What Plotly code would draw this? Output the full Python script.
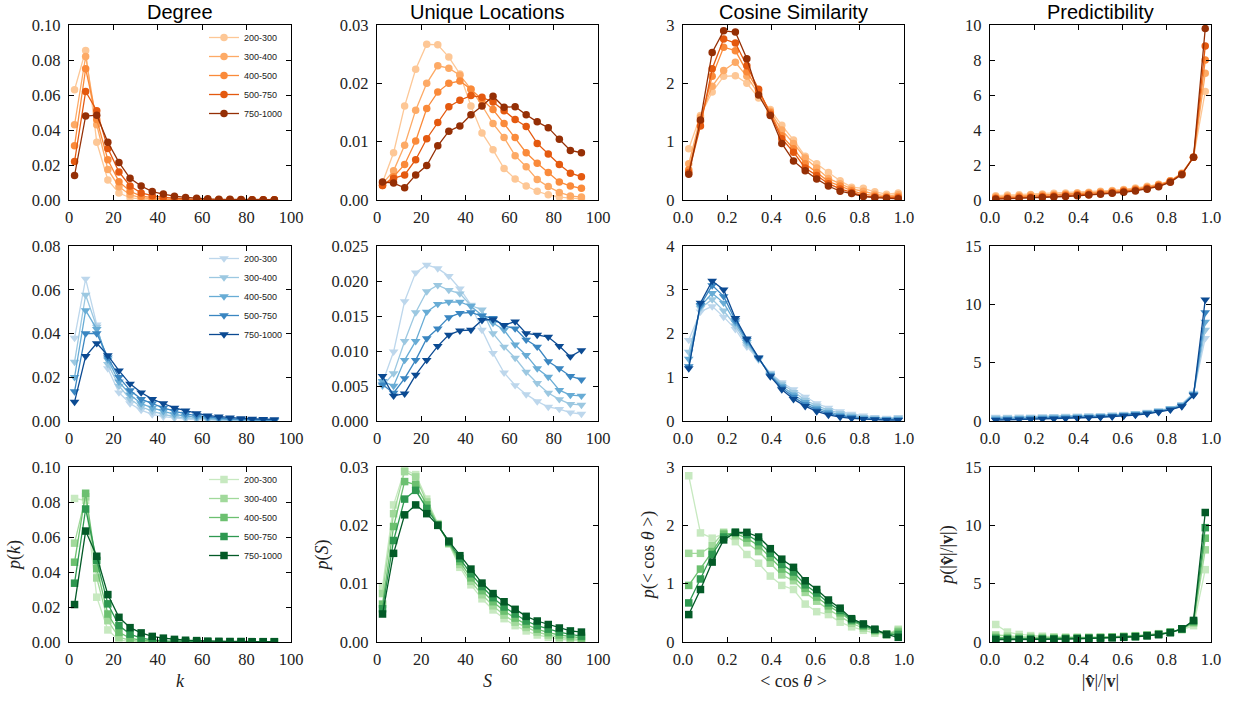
import plotly.graph_objects as go
from plotly.subplots import make_subplots

# ---------------------------------------------------------------- data
groups = ["200-300", "300-400", "400-500", "500-750", "750-1000"]

k_bins = [2.5, 7.5, 12.5, 17.5, 22.5, 27.5, 32.5, 37.5, 42.5, 47.5,
          52.5, 57.5, 62.5, 67.5, 72.5, 77.5, 82.5, 87.5, 92.5]
s_bins = [2.5, 7.5, 12.5, 17.5, 22.5, 27.5, 32.5, 37.5, 42.5, 47.5,
          52.5, 57.5, 62.5, 67.5, 72.5, 77.5, 82.5, 87.5, 92.5]
cos_bins = [0.026, 0.079, 0.132, 0.184, 0.237, 0.289, 0.342, 0.395, 0.447, 0.500,
            0.553, 0.605, 0.658, 0.711, 0.763, 0.816, 0.868, 0.921, 0.974]
ratio_bins = [0.026, 0.079, 0.132, 0.184, 0.237, 0.289, 0.342, 0.395, 0.447, 0.500,
              0.553, 0.605, 0.658, 0.711, 0.763, 0.816, 0.868, 0.921, 0.974]

# --- orange row
degree_orange = [
    [0.063, 0.0855, 0.033, 0.0114, 0.0040, 0.0013, 0.0005, 0.0002, 0.0001, 0.0001, 0.0001, 0.0, 0.0, 0.0, 0.0, 0.0, 0.0, 0.0, 0.0],
    [0.043, 0.082, 0.043, 0.0175, 0.0076, 0.0030, 0.0012, 0.0006, 0.0003, 0.0002, 0.0001, 0.0001, 0.0001, 0.0, 0.0, 0.0, 0.0, 0.0, 0.0],
    [0.031, 0.075, 0.046, 0.023, 0.0105, 0.0050, 0.0022, 0.0012, 0.0006, 0.0004, 0.0002, 0.0002, 0.0001, 0.0001, 0.0001, 0.0, 0.0, 0.0, 0.0],
    [0.022, 0.062, 0.051, 0.0295, 0.016, 0.008, 0.0040, 0.0025, 0.0015, 0.0009, 0.0006, 0.0004, 0.0003, 0.0002, 0.0002, 0.0001, 0.0001, 0.0001, 0.0001],
    [0.014, 0.048, 0.0485, 0.033, 0.0215, 0.0124, 0.0080, 0.0048, 0.0034, 0.0022, 0.0015, 0.0010, 0.0007, 0.0005, 0.0004, 0.0003, 0.0002, 0.0002, 0.0002],
]
unique_orange = [
    [0.0030, 0.0081, 0.0161, 0.0224, 0.0267, 0.0266, 0.0245, 0.0216, 0.0161, 0.0115, 0.0086, 0.0054, 0.0036, 0.0024, 0.0015, 0.0009, 0.0005, 0.0003, 0.0002],
    [0.0028, 0.0050, 0.0094, 0.0154, 0.0200, 0.0230, 0.0226, 0.0214, 0.0190, 0.0162, 0.0131, 0.0107, 0.0076, 0.0057, 0.0035, 0.0023, 0.0013, 0.0007, 0.0005],
    [0.0025, 0.0040, 0.0061, 0.0101, 0.0157, 0.0185, 0.0200, 0.0204, 0.0190, 0.0172, 0.0155, 0.0131, 0.0107, 0.0081, 0.0063, 0.0047, 0.0031, 0.0024, 0.0020],
    [0.0025, 0.0037, 0.0043, 0.0069, 0.0105, 0.0133, 0.0160, 0.0171, 0.0179, 0.0176, 0.0168, 0.0153, 0.0138, 0.0126, 0.0097, 0.0079, 0.0061, 0.0046, 0.0040],
    [0.0031, 0.0029, 0.0021, 0.0043, 0.0059, 0.0093, 0.0118, 0.0127, 0.0146, 0.0161, 0.0178, 0.0159, 0.0160, 0.0146, 0.0134, 0.0124, 0.0104, 0.0085, 0.0081],
]
cosine_orange = [
    [0.88, 1.45, 1.85, 2.12, 2.13, 2.00, 1.75, 1.55, 1.28, 1.03, 0.75, 0.62, 0.47, 0.33, 0.22, 0.20, 0.14, 0.10, 0.12],
    [0.62, 1.42, 1.95, 2.22, 2.36, 2.12, 1.82, 1.52, 1.20, 0.97, 0.72, 0.55, 0.37, 0.28, 0.19, 0.15, 0.10, 0.07, 0.09],
    [0.52, 1.35, 2.12, 2.62, 2.56, 2.20, 1.87, 1.50, 1.10, 0.88, 0.62, 0.47, 0.32, 0.24, 0.16, 0.10, 0.07, 0.05, 0.06],
    [0.47, 1.27, 2.25, 2.76, 2.69, 2.30, 1.90, 1.47, 1.05, 0.82, 0.55, 0.42, 0.28, 0.19, 0.13, 0.07, 0.05, 0.04, 0.04],
    [0.44, 1.37, 2.53, 2.90, 2.88, 2.42, 1.80, 1.45, 0.97, 0.67, 0.50, 0.36, 0.24, 0.15, 0.11, 0.06, 0.04, 0.03, 0.02],
]
predict_orange = [
    [0.25, 0.28, 0.30, 0.32, 0.35, 0.38, 0.40, 0.42, 0.45, 0.50, 0.55, 0.60, 0.68, 0.78, 0.90, 1.10, 1.55, 2.45, 6.2],
    [0.18, 0.22, 0.25, 0.28, 0.30, 0.32, 0.35, 0.38, 0.42, 0.47, 0.52, 0.57, 0.65, 0.75, 0.88, 1.10, 1.50, 2.45, 7.25],
    [0.12, 0.15, 0.18, 0.20, 0.23, 0.26, 0.30, 0.33, 0.37, 0.42, 0.47, 0.53, 0.60, 0.70, 0.84, 1.08, 1.50, 2.45, 8.0],
    [0.08, 0.10, 0.12, 0.15, 0.18, 0.21, 0.25, 0.28, 0.32, 0.37, 0.42, 0.48, 0.56, 0.66, 0.80, 1.05, 1.48, 2.45, 8.8],
    [0.05, 0.07, 0.09, 0.11, 0.14, 0.17, 0.20, 0.24, 0.28, 0.33, 0.38, 0.44, 0.52, 0.62, 0.76, 1.02, 1.45, 2.45, 9.8],
]

# --- blue row
degree_blue = [
    [0.038, 0.065, 0.044, 0.024, 0.013, 0.008, 0.005, 0.003, 0.002, 0.0013, 0.0009, 0.0006, 0.0004, 0.0003, 0.0002, 0.00015, 0.0001, 0.0001, 0.00005],
    [0.027, 0.0576, 0.043, 0.026, 0.016, 0.010, 0.0065, 0.0045, 0.003, 0.002, 0.0014, 0.001, 0.0007, 0.0005, 0.0004, 0.0003, 0.0002, 0.00015, 0.0001],
    [0.020, 0.0506, 0.042, 0.028, 0.018, 0.012, 0.008, 0.006, 0.0045, 0.003, 0.0022, 0.0016, 0.0012, 0.0009, 0.0007, 0.0005, 0.0004, 0.0003, 0.0002],
    [0.0135, 0.040, 0.040, 0.029, 0.020, 0.014, 0.010, 0.008, 0.006, 0.0045, 0.0033, 0.0025, 0.0018, 0.0013, 0.001, 0.0008, 0.0006, 0.0005, 0.0004],
    [0.0087, 0.0296, 0.0355, 0.030, 0.023, 0.017, 0.013, 0.010, 0.008, 0.0060, 0.0047, 0.0035, 0.0025, 0.0020, 0.0015, 0.0012, 0.0010, 0.0008, 0.0007],
]
unique_blue = [
    [0.0055, 0.0099, 0.0171, 0.0212, 0.0223, 0.0218, 0.0207, 0.0189, 0.0166, 0.0130, 0.0097, 0.0069, 0.0051, 0.0038, 0.0028, 0.0020, 0.0017, 0.0012, 0.0010],
    [0.0050, 0.0068, 0.0114, 0.0155, 0.0185, 0.0194, 0.0187, 0.0182, 0.0165, 0.0159, 0.0125, 0.0106, 0.0090, 0.0070, 0.0054, 0.0040, 0.0031, 0.0024, 0.0023],
    [0.0057, 0.0050, 0.0087, 0.0114, 0.0156, 0.0167, 0.0170, 0.0170, 0.0164, 0.0151, 0.0140, 0.0130, 0.0109, 0.0094, 0.0075, 0.0063, 0.0044, 0.0037, 0.0036],
    [0.0052, 0.0040, 0.0061, 0.0087, 0.0118, 0.0132, 0.0148, 0.0154, 0.0155, 0.0150, 0.0147, 0.0136, 0.0132, 0.0116, 0.0106, 0.0085, 0.0075, 0.0064, 0.0059],
    [0.0064, 0.0036, 0.0039, 0.0066, 0.0087, 0.0107, 0.0123, 0.0129, 0.0130, 0.0144, 0.0145, 0.0137, 0.0142, 0.0125, 0.0123, 0.0120, 0.0107, 0.0092, 0.0101],
]
cosine_blue = [
    [1.85, 2.50, 2.62, 2.38, 2.10, 1.70, 1.40, 1.10, 0.88, 0.72, 0.55, 0.40, 0.30, 0.22, 0.16, 0.12, 0.09, 0.07, 0.09],
    [1.58, 2.58, 2.78, 2.52, 2.18, 1.75, 1.42, 1.08, 0.85, 0.66, 0.48, 0.35, 0.25, 0.18, 0.13, 0.09, 0.07, 0.05, 0.07],
    [1.42, 2.62, 2.92, 2.70, 2.25, 1.80, 1.43, 1.06, 0.80, 0.60, 0.43, 0.30, 0.21, 0.14, 0.10, 0.07, 0.05, 0.04, 0.05],
    [1.25, 2.65, 3.10, 2.85, 2.30, 1.85, 1.44, 1.04, 0.76, 0.55, 0.38, 0.26, 0.17, 0.11, 0.08, 0.05, 0.04, 0.03, 0.03],
    [1.20, 2.70, 3.20, 3.00, 2.35, 1.88, 1.45, 1.02, 0.72, 0.50, 0.34, 0.22, 0.14, 0.09, 0.06, 0.04, 0.03, 0.02, 0.02],
]
predict_blue = [
    [0.35, 0.36, 0.37, 0.38, 0.40, 0.42, 0.44, 0.46, 0.48, 0.50, 0.55, 0.60, 0.68, 0.78, 0.90, 1.10, 1.45, 2.40, 7.1],
    [0.28, 0.30, 0.31, 0.33, 0.35, 0.37, 0.39, 0.41, 0.44, 0.47, 0.52, 0.57, 0.65, 0.75, 0.88, 1.08, 1.40, 2.35, 7.8],
    [0.20, 0.22, 0.24, 0.26, 0.28, 0.30, 0.32, 0.35, 0.38, 0.42, 0.47, 0.53, 0.60, 0.70, 0.84, 1.05, 1.35, 2.30, 8.5],
    [0.14, 0.16, 0.18, 0.20, 0.22, 0.24, 0.27, 0.30, 0.33, 0.37, 0.42, 0.48, 0.56, 0.66, 0.80, 1.00, 1.30, 2.25, 9.3],
    [0.08, 0.10, 0.12, 0.14, 0.16, 0.18, 0.21, 0.24, 0.28, 0.32, 0.37, 0.43, 0.51, 0.62, 0.76, 0.96, 1.25, 2.20, 10.4],
]

# --- green row
degree_green = [
    [0.082, 0.081, 0.0256, 0.0069, 0.0010, 0.0003, 0.0001, 0.0, 0.0, 0.0, 0.0, 0.0, 0.0, 0.0, 0.0, 0.0, 0.0, 0.0, 0.0],
    [0.0565, 0.083, 0.0366, 0.0122, 0.0027, 0.0010, 0.0004, 0.0002, 0.0001, 0.0001, 0.0, 0.0, 0.0, 0.0, 0.0, 0.0, 0.0, 0.0, 0.0],
    [0.0456, 0.085, 0.042, 0.016, 0.0055, 0.0022, 0.0010, 0.0005, 0.0003, 0.0002, 0.0001, 0.0001, 0.0, 0.0, 0.0, 0.0, 0.0, 0.0, 0.0],
    [0.0336, 0.076, 0.0466, 0.0218, 0.0094, 0.0045, 0.0022, 0.0012, 0.0007, 0.0005, 0.0003, 0.0002, 0.0001, 0.0001, 0.0001, 0.0001, 0.0, 0.0, 0.0],
    [0.0214, 0.0634, 0.049, 0.0271, 0.0141, 0.0082, 0.0052, 0.0032, 0.0022, 0.0015, 0.0010, 0.0008, 0.0005, 0.0004, 0.0003, 0.0003, 0.0002, 0.0002, 0.0002],
]
unique_green = [
    [0.0095, 0.0235, 0.0295, 0.0287, 0.0245, 0.0203, 0.0168, 0.0128, 0.0098, 0.0074, 0.0055, 0.0040, 0.0028, 0.0019, 0.0012, 0.0008, 0.0005, 0.0003, 0.0002],
    [0.0083, 0.0220, 0.0292, 0.0283, 0.0240, 0.0202, 0.0169, 0.0133, 0.0104, 0.0081, 0.0062, 0.0046, 0.0034, 0.0025, 0.0017, 0.0012, 0.0008, 0.0006, 0.0004],
    [0.0065, 0.0198, 0.0275, 0.0270, 0.0235, 0.0201, 0.0170, 0.0138, 0.0110, 0.0088, 0.0069, 0.0053, 0.0041, 0.0030, 0.0022, 0.0016, 0.0012, 0.0009, 0.0007],
    [0.0057, 0.0174, 0.0245, 0.0260, 0.0229, 0.0200, 0.0171, 0.0143, 0.0117, 0.0095, 0.0076, 0.0060, 0.0048, 0.0036, 0.0028, 0.0022, 0.0017, 0.0013, 0.0010],
    [0.0048, 0.0152, 0.0218, 0.0235, 0.0220, 0.0200, 0.0173, 0.0148, 0.0125, 0.0101, 0.0083, 0.0069, 0.0056, 0.0044, 0.0036, 0.0030, 0.0024, 0.0019, 0.0017],
]
cosine_green = [
    [2.85, 1.87, 1.78, 1.85, 1.72, 1.50, 1.35, 1.13, 0.97, 0.90, 0.65, 0.52, 0.47, 0.34, 0.26, 0.20, 0.15, 0.13, 0.22],
    [1.52, 1.52, 1.65, 1.88, 1.82, 1.70, 1.55, 1.35, 1.15, 1.05, 0.85, 0.70, 0.56, 0.44, 0.32, 0.24, 0.18, 0.13, 0.20],
    [0.97, 1.25, 1.55, 1.85, 1.86, 1.78, 1.65, 1.45, 1.25, 1.12, 0.92, 0.77, 0.62, 0.50, 0.36, 0.27, 0.20, 0.13, 0.17],
    [0.67, 1.08, 1.50, 1.80, 1.88, 1.84, 1.72, 1.52, 1.33, 1.20, 0.98, 0.84, 0.67, 0.54, 0.38, 0.29, 0.21, 0.13, 0.13],
    [0.47, 0.90, 1.37, 1.75, 1.88, 1.88, 1.80, 1.60, 1.42, 1.28, 1.05, 0.90, 0.72, 0.58, 0.40, 0.31, 0.22, 0.13, 0.08],
]
predict_green = [
    [1.50, 0.85, 0.65, 0.55, 0.50, 0.45, 0.42, 0.42, 0.42, 0.43, 0.45, 0.50, 0.55, 0.62, 0.72, 0.85, 1.05, 1.40, 6.2],
    [0.60, 0.50, 0.45, 0.42, 0.40, 0.38, 0.38, 0.38, 0.39, 0.41, 0.44, 0.48, 0.53, 0.60, 0.70, 0.85, 1.08, 1.60, 7.9],
    [0.40, 0.35, 0.33, 0.32, 0.32, 0.32, 0.33, 0.34, 0.36, 0.38, 0.41, 0.45, 0.50, 0.57, 0.67, 0.83, 1.10, 1.70, 8.9],
    [0.30, 0.27, 0.26, 0.26, 0.27, 0.28, 0.29, 0.31, 0.33, 0.35, 0.38, 0.42, 0.47, 0.55, 0.65, 0.82, 1.12, 1.80, 9.8],
    [0.20, 0.20, 0.20, 0.20, 0.21, 0.23, 0.25, 0.27, 0.30, 0.33, 0.36, 0.40, 0.45, 0.53, 0.63, 0.80, 1.13, 1.85, 11.1],
]

column_titles = ["Degree", "Unique Locations", "Cosine Similarity", "Predictibility"]

# ---------------------------------------------------------------- styling
orange_colors = ["#fdc796", "#fdaa66", "#fa8a3a", "#e4590f", "#952f05"]
blue_colors = ["#bdd7ec", "#9cc8e1", "#68acd5", "#3a86c1", "#0b4a92"]
green_colors = ["#c7e9c0", "#a1d99b", "#6cc070", "#2e9850", "#035a27"]

rows = [
    dict(colors=orange_colors, symbol="circle", size=7.5,
         data=[degree_orange, unique_orange, cosine_orange, predict_orange],
         ymax=[0.10, 0.03, 3, 10], dtick=[0.02, 0.01, 1, 2], fmt=[".2f", ".2f", "d", "d"],
         legend="legend"),
    dict(colors=blue_colors, symbol="triangle-down", size=8.5,
         data=[degree_blue, unique_blue, cosine_blue, predict_blue],
         ymax=[0.08, 0.025, 4, 15], dtick=[0.02, 0.005, 1, 5], fmt=[".2f", ".3f", "d", "d"],
         legend="legend2"),
    dict(colors=green_colors, symbol="square", size=7.5,
         data=[degree_green, unique_green, cosine_green, predict_green],
         ymax=[0.10, 0.03, 3, 15], dtick=[0.02, 0.01, 1, 5], fmt=[".2f", ".2f", "d", "d"],
         legend="legend3"),
]
x_bins = [k_bins, s_bins, cos_bins, ratio_bins]
x_range = [[0, 100], [0, 100], [0, 1], [0, 1]]
x_dtick = [20, 20, 0.2, 0.2]
x_fmt = ["d", "d", ".1f", ".1f"]

x_titles = ["<i>k</i>", "<i>S</i>", "&lt; cos <i>θ</i> &gt;", "|<b>v̂</b>|/|<b>v</b>|"]
y_titles = ["<i>p</i>(<i>k</i>)", "<i>p</i>(<i>S</i>)", "<i>p</i>(&lt; cos <i>θ</i> &gt;)",
            "<i>p</i>(|<b>v̂</b>|/|<b>v</b>|)"]

W, H = 1233, 703
col_px = [(69, 291), (377, 598), (683, 904), (990, 1211)]
row_px = [(25, 200), (246, 421), (467, 642)]

SERIF = "Liberation Serif"
SANS = "Liberation Sans"

fig = make_subplots(rows=3, cols=4)

for r, spec in enumerate(rows):
    for c in range(4):
        for j, grp in enumerate(groups):
            fig.add_trace(
                go.Scatter(
                    x=x_bins[c], y=spec["data"][c][j],
                    mode="lines+markers", name=grp,
                    line=dict(color=spec["colors"][j], width=1.3),
                    marker=dict(symbol=spec["symbol"], size=spec["size"],
                                color=spec["colors"][j], line=dict(width=0)),
                    legend=spec["legend"], showlegend=(c == 0),
                ),
                row=r + 1, col=c + 1,
            )
        x0, x1 = col_px[c]
        y0, y1 = row_px[r]
        fig.update_xaxes(
            domain=[x0 / W, x1 / W], range=x_range[c], dtick=x_dtick[c], tick0=0,
            tickformat=x_fmt[c], showgrid=False, zeroline=False,
            showline=True, linecolor="black", linewidth=1.3, mirror="allticks",
            ticks="inside", ticklen=5, tickwidth=1, tickcolor="black",
            tickfont=dict(family=SERIF, size=16.5, color="#222"),
            ticklabelstandoff=2,
            title=dict(text=x_titles[c] if r == 2 else None,
                       font=dict(family=SERIF, size=18, color="#222"), standoff=6),
            automargin=False,
            row=r + 1, col=c + 1,
        )
        fig.update_yaxes(
            domain=[1 - y1 / H, 1 - y0 / H], range=[0, spec["ymax"][c]],
            dtick=spec["dtick"][c], tick0=0, tickformat=spec["fmt"][c],
            showgrid=False, zeroline=False,
            showline=True, linecolor="black", linewidth=1.3, mirror="allticks",
            ticks="inside", ticklen=5, tickwidth=1, tickcolor="black",
            tickfont=dict(family=SERIF, size=16.5, color="#222"),
            ticklabelstandoff=4,
            title=dict(text=y_titles[c] if r == 2 else None,
                       font=dict(family=SERIF, size=18, color="#222"), standoff=6),
            automargin=False,
            row=r + 1, col=c + 1,
        )

# column headings
for c, title in enumerate(column_titles):
    x0, x1 = col_px[c]
    fig.add_annotation(
        text=title, x=(x0 + x1) / 2 / W, y=1 - 12 / H, xref="paper", yref="paper",
        xanchor="center", yanchor="middle", showarrow=False,
        font=dict(family=SANS, size=20, color="black"),
    )

legend_style = dict(
    xanchor="right", yanchor="top", x=288 / W,
    bgcolor="rgba(0,0,0,0)", borderwidth=0,
    font=dict(family=SANS, size=9, color="#222"),
    itemwidth=30, tracegroupgap=0,
)
fig.update_layout(
    width=W, height=H,
    margin=dict(l=0, r=0, t=0, b=0),
    paper_bgcolor="white", plot_bgcolor="white",
    legend=dict(legend_style, y=1 - 23 / H),
    legend2=dict(legend_style, y=1 - 244 / H),
    legend3=dict(legend_style, y=1 - 465 / H),
)

# page body without the default 8px margin so the figure fills the window exactly
fig.write_html("out.html", post_script="document.body.style.margin='0';")
